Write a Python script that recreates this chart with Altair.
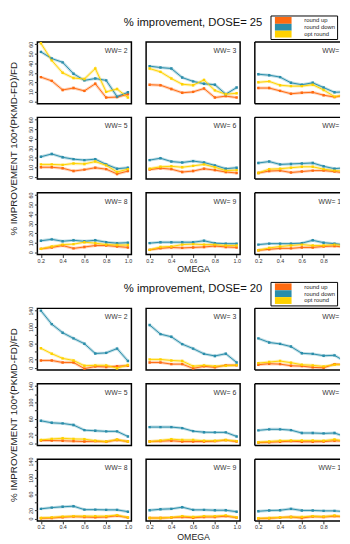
import altair as alt
import pandas as pd

OMEGA = [0.2, 0.3, 0.4, 0.5, 0.6, 0.7, 0.8, 0.9, 1.0]
WW = [2, 3, 4, 5, 6, 7, 8, 9, 10]
SERIES = ["round up", "round down", "opt round"]
COLORS = ["#FF6A10", "#2A8DAA", "#FFD200"]
YTITLE = "% IMPROVEMENT 100*(PKMD-FD)/FD"
XTICKS = [0.2, 0.4, 0.6, 0.8, 1.0]

# DOSE = 25 (one list per WW = 2..10)
d25_up = [
    [25.5, 21.5, 12, 14, 11, 18.5, 4, 4.5, 7.5],
    [17.5, 17, 13, 9, 10, 13.5, 4, 5.5, 4],
    [14, 14, 11, 8, 9, 9.5, 6.5, 4.5, 6.5],
    [10, 10, 9, 6, 7.5, 9.5, 8, 3, 6],
    [7.5, 9, 8, 5, 6, 8.5, 7, 5, 4],
    [4, 6, 6.5, 4.5, 5.5, 6.5, 6.5, 5.5, 4],
    [3.5, 5, 7, 4, 5.5, 7, 7, 6, 5],
    [2.5, 4, 5, 4.5, 5, 5.5, 6.5, 5.5, 5],
    [2, 3, 4, 4, 5, 5, 6, 6.5, 5],
]
d25_down = [
    [52, 45, 41, 29, 22, 24, 22, 5, 9.5],
    [37, 35.5, 34.5, 25, 21, 18.5, 17.5, 7.5, 14.5],
    [28.5, 27.5, 25.5, 19.5, 17.5, 19.5, 14.5, 9.5, 10],
    [21, 24, 20.5, 18.5, 17.5, 18.5, 13, 8.5, 9.5],
    [17.5, 19.5, 16, 15, 16.5, 15, 12, 8.5, 9.5],
    [14.5, 16, 13, 13.5, 14, 14.5, 11, 8.5, 9.5],
    [12, 13.5, 11.5, 12.5, 11.5, 12.5, 10.5, 9.5, 10],
    [9.5, 10.5, 10.5, 10.5, 10.5, 12, 9.5, 9, 9],
    [8, 9, 9, 9, 9.5, 12.5, 10, 9, 7.5],
]
d25_opt = [
    [61, 43, 30, 24.5, 23.5, 34.5, 10, 13, 4],
    [34.5, 31, 24, 18, 17, 22.5, 11.5, 7.5, 8.5],
    [20, 21, 17, 16, 16, 17.5, 12, 5, 7],
    [13, 13, 12.5, 14, 13.5, 16, 12, 5, 8],
    [8.5, 10.5, 11, 10, 11.5, 13, 10, 6.5, 7],
    [4, 8, 8.5, 9.5, 10.5, 10.5, 8, 6.5, 6],
    [3.5, 6, 8, 8.5, 10.5, 9.5, 8, 7.5, 7.5],
    [2.5, 5.5, 6, 8, 8.5, 8, 8, 7, 7],
    [2, 4.5, 6, 7, 8, 7, 7, 8, 7],
]

# DOSE = 20
d20_up = [
    [18, 18, 13, 13, -2, 3, 2, 4, 5],
    [13, 13, 9, 9, -1.5, 3.5, 1, 6.5, 6],
    [7.5, 10, 9, 5, 4, 1, 0, 9, 8],
    [6.5, 6.5, 6, 5, 4, 5, 3.5, 8, 4],
    [4, 5, 6, 4, 4, 4, 5, 7.5, 4],
    [1.5, 2.5, 3.5, 5, 3.5, 3.5, 4, 6, 5],
    [1, 1.5, 3.5, 5, 4, 3, 4, 7, 2.5],
    [1.5, 1.5, 2.5, 4, 2, 4, 4, 6, 2.5],
    [0, 1, 2.5, 4, 1.5, 5, 4, 6, 4],
]
d20_down = [
    [140, 107, 86, 72, 59, 35, 36.5, 47, 16.5],
    [105, 82.5, 76, 58, 47, 34, 29, 34.5, 13],
    [72, 62, 58.5, 52, 35.5, 34, 29.5, 30.5, 15],
    [55, 50, 48.5, 44.5, 32, 30.5, 29, 29, 16.5],
    [39.5, 39.5, 39.5, 37, 29.5, 27, 26.5, 26.5, 16.5],
    [31.5, 34, 34, 32, 25, 25, 24, 25, 16],
    [24, 27, 29, 30.5, 22, 22, 21.5, 21.5, 17],
    [20.5, 23, 24, 28, 21.5, 21.5, 20.5, 20.5, 17],
    [18, 20, 20.5, 24, 20, 20, 19, 19, 17],
]
d20_opt = [
    [48, 34.5, 23, 18, 5, 6, 6, -1, 7],
    [20.5, 20.5, 18, 16.5, 4, 6, 4, 5, 6.5],
    [11.5, 14, 16.5, 12.5, 7.5, 6, 3.5, 7.5, 8],
    [8, 10.5, 12, 10.5, 10, 6, 4, 9, 4],
    [4, 6.5, 10, 8, 8, 6, 6, 8, 5],
    [2.5, 4, 6, 6.5, 6.5, 6.5, 6, 9, 5],
    [1.5, 3, 5, 6, 6, 6, 6, 8.5, 3],
    [1.5, 1.5, 3, 6, 4, 6, 6, 8, 3],
    [1, 1.5, 3, 4, 4, 6, 5, 7.5, 5],
]

PW, PH = 96, 63          # panel size
CLIPW = 87               # visible width of the third column
XDOM = [0.168, 1.032]


def panel_df(arrs, w_i):
    rows = []
    for s_i, (name, arr) in enumerate(zip(SERIES, arrs)):
        for o, v in zip(OMEGA, arr[w_i]):
            rows.append({"omega": o, "value": v, "series": name, "ord": s_i,
                         "lab": f"WW= {WW[w_i]}"})
    return pd.DataFrame(rows)


LEGEND = alt.Legend(title=None, orient="none", legendX=16, legendY=-27,
                    symbolType="M-2.43,-1H2.43V1H-2.43Z", symbolSize=49,
                    symbolStrokeWidth=0, symbolOpacity=1, symbolOffset=8,
                    labelFontSize=6, labelColor="#222", labelOffset=18, rowPadding=0,
                    padding=1.5, strokeColor="black",
                    labelExpr="datum.label + '     '")


def panel(arrs, w_i, ydom, yvals, ylabexpr, dose, omega_y):
    row, col = w_i // 3, w_i % 3
    has_legend = (row == 0 and col == 2)
    w = PW if col < 2 else CLIPW
    xdom = XDOM if col < 2 else [XDOM[0], XDOM[0] + (XDOM[1] - XDOM[0]) * CLIPW / PW]
    xvals = XTICKS if col < 2 else XTICKS[:4]
    if row == 2:
        if col == 1:
            xaxis = alt.Axis(values=xvals, format=".1f", title="OMEGA", titleY=omega_y,
                             titleBaseline="middle", titleFontSize=9,
                             titleFontWeight="normal", titleColor="#222")
        else:
            xaxis = alt.Axis(values=xvals, format=".1f", title=None)
    else:
        xaxis = None
    if col == 0:
        if row == 1:
            yaxis = alt.Axis(values=yvals, labelExpr=ylabexpr, labelAngle=270,
                             title=YTITLE, titleX=-24, titleY=PH / 2, titleAngle=270,
                             titleAlign="center", titleBaseline="middle", titleFontSize=10,
                             titleFontWeight="normal", titleColor="#222")
        else:
            yaxis = alt.Axis(values=yvals, labelExpr=ylabexpr, labelAngle=270, title=None)
    else:
        yaxis = None
    xenc = alt.X("omega:Q", scale=alt.Scale(domain=xdom, nice=False, zero=False), axis=xaxis)
    yenc = alt.Y("value:Q", scale=alt.Scale(domain=ydom, nice=False, zero=False), axis=yaxis)
    cscale = alt.Scale(domain=SERIES, range=COLORS)
    c_pts = alt.Color("series:N", scale=cscale, legend=LEGEND if has_legend else None)
    s_line = alt.Stroke("series:N", scale=cscale, legend=None)
    pts = alt.Chart().mark_point(filled=True, size=6, opacity=1, shape="square", clip=True).encode(
        x=xenc, y=yenc, color=c_pts, order="ord:Q")
    halo = alt.Chart().mark_line(strokeWidth=3, strokeOpacity=0.3, clip=True).encode(
        x=xenc, y=yenc, stroke=s_line)
    line = alt.Chart().mark_line(strokeWidth=1, clip=True).encode(
        x=xenc, y=yenc, stroke=s_line)
    txt = alt.Chart().transform_filter("datum.omega == 0.2 && datum.ord == 0").mark_text(
        align="right", baseline="middle", fontSize=7, color="#333", clip=True
    ).encode(x=alt.value(PW - 4), y=alt.value(9), text="lab:N")
    layers = [halo, line, pts, txt]
    props = {"width": w, "height": PH}
    if col == 2:
        one = alt.Data(values=[{"k": 1}])
        border = alt.Chart(one).mark_rule(color="black", strokeWidth=1.5)
        layers += [
            border.encode(x=alt.value(0), x2=alt.value(w), y=alt.value(0)),
            border.encode(x=alt.value(0), x2=alt.value(w), y=alt.value(PH)),
            border.encode(x=alt.value(0), y=alt.value(0), y2=alt.value(PH)),
        ]
        props["view"] = alt.ViewBackground(stroke="transparent")
    if row == 0 and col == 1:
        props["title"] = alt.TitleParams(f"% improvement, DOSE= {dose}", fontSize=11.5,
                                         fontWeight="normal", anchor="middle", offset=14,
                                         color="#111")
    return alt.layer(*layers, data=panel_df(arrs, w_i)).properties(**props)


def spacer(w):
    one = alt.Data(values=[{"k": 1}])
    return alt.Chart(one).mark_point(opacity=0).encode(
        x=alt.value(0), y=alt.value(0)
    ).properties(width=w, height=27, view=alt.ViewBackground(stroke="transparent"))


blocks = [
    ([d25_up, d25_down, d25_opt], 25, [-2.4, 62.4], [0, 10, 20, 30, 40, 50, 60],
     "datum.label", 14),
    ([d20_up, d20_down, d20_opt], 20, [-5.6, 145.6], [0, 20, 40, 60, 80, 100, 120, 140],
     "(datum.value == 40 || datum.value == 80 || datum.value == 120) ? '' : datum.label", 16),
]

cells = []
for b_i, (arrs, dose, ydom, yvals, ylab, oy) in enumerate(blocks):
    if b_i == 1:
        cells += [spacer(PW), spacer(PW), spacer(CLIPW)]
    cells += [panel(arrs, i, ydom, yvals, ylab, dose, oy) for i in range(9)]

chart = alt.concat(*cells, columns=3, spacing={"row": 14, "column": 15},
                   bounds="flush").resolve_legend(color="independent").configure(
    font="Liberation Sans", padding=0
).configure_view(stroke="black", strokeWidth=1.5).configure_axis(
    grid=False, domain=False, labelFontSize=5.5, labelColor="#333", tickColor="#333",
    tickSize=3, labelPadding=1
)

chart.save("out.html", embed_options={"renderer": "svg", "actions": False})
